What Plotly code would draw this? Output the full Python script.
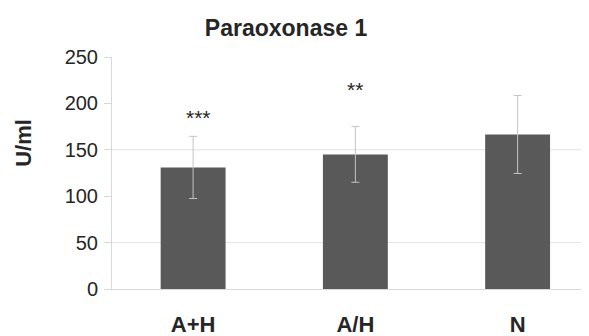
import plotly.graph_objects as go

categories = ["A+H", "A/H", "N"]
means = [131, 145, 166.5]
errors = [33.5, 30, 42]
sig_labels = ["***", "**", ""]
sig_positions = [184.5, 214.5, None]
y_ticks = [0, 50, 100, 150, 200, 250]
grid_vals = [50, 150]

FONT = "Liberation Sans, Arial, sans-serif"
TXT = "#262626"
LINE = "#d9d9d9"

# page body has an 8px margin: figure is drawn at (8, 8)
OFF = 8
W, H = 589 - OFF, 336 - OFF

fig = go.Figure()
fig.add_trace(go.Bar(
    x=list(range(len(categories))), y=means,
    marker=dict(color="#595959", line=dict(width=0)),
    error_y=dict(type="data", array=errors, visible=True, color="#c4c4c4", thickness=1, width=4),
    showlegend=False,
))

for g in grid_vals:
    fig.add_shape(type="line", xref="paper", x0=0, x1=1, yref="y", y0=g, y1=g,
                  line=dict(color="#e3e3e3", width=1), layer="below")

for i, (lab, pos) in enumerate(zip(sig_labels, sig_positions)):
    if lab:
        fig.add_annotation(x=i, y=pos, xref="x", yref="y", text=lab, showarrow=False,
                           xshift=5 if lab == "***" else 0,
                           font=dict(family=FONT, size=21, color=TXT), yanchor="middle")

fig.add_annotation(x=-0.1845, y=0.63, xref="paper", yref="paper", text="<b>U/ml</b>",
                   textangle=-90, showarrow=False, xanchor="center", yanchor="middle",
                   font=dict(family=FONT, size=22, color=TXT))

fig.update_layout(
    template="none",
    width=W, height=H,
    margin=dict(l=112 - OFF, r=0, t=57 - OFF, b=46.5, pad=0, autoexpand=False),
    paper_bgcolor="white", plot_bgcolor="rgba(0,0,0,0)",
    bargap=0.6,
    title=dict(text="<b>Paraoxonase 1</b>", x=(286 - OFF) / W, xanchor="center", xref="container",
               y=1 - (28 - OFF) / H, yanchor="middle", yref="container",
               font=dict(family=FONT, size=23, color=TXT)),
    xaxis=dict(range=[-0.5, 2.44], tickvals=list(range(len(categories))),
               ticktext=["<b>%s</b>" % c for c in categories],
               tickfont=dict(family=FONT, size=22, color=TXT), automargin=False,
               showline=True, linecolor=LINE, linewidth=1, showgrid=False, zeroline=False,
               ticks="", ticklabelstandoff=16),
    yaxis=dict(range=[0, 250], tickvals=y_ticks, showgrid=False, zeroline=False,
               showline=True, linecolor=LINE, linewidth=1, automargin=False,
               ticks="outside", ticklen=7, tickcolor=LINE, tickwidth=1,
               tickfont=dict(family=FONT, size=20, color=TXT), ticklabelstandoff=2),
)
fig.write_html("out.html")
